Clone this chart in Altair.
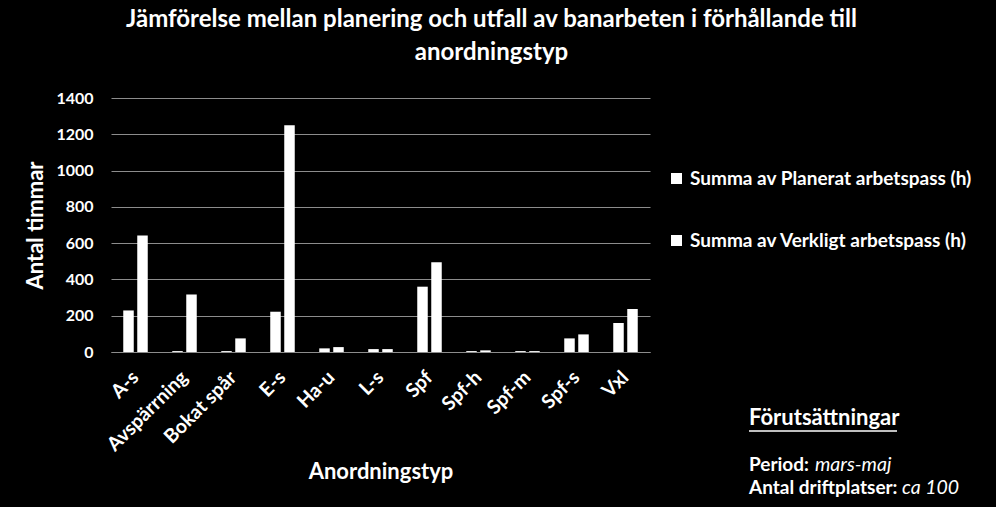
import altair as alt
import pandas as pd

categories = ["A-s", "Avspärrning", "Bokat spår", "E-s", "Ha-u", "L-s",
              "Spf", "Spf-h", "Spf-m", "Spf-s", "Vxl"]
planerat = [229, 5, 5, 222, 20, 16, 360, 5, 5, 75, 160]
verkligt = [642, 317, 75, 1250, 27, 16, 495, 9, 5, 97, 237]
series = ["Summa av Planerat arbetspass (h)", "Summa av Verkligt arbetspass (h)"]
y_ticks = [0, 200, 400, 600, 800, 1000, 1200, 1400]

title_lines = ["Jämförelse mellan planering och utfall av banarbeten i förhållande till",
               "anordningstyp"]
note_heading = "Förutsättningar"
note_labels = ["Period:", "Antal driftplatser:"]
note_values = ["mars-maj", "ca 100"]

rows = []
for c, p, v in zip(categories, planerat, verkligt):
    rows.append({"Anordningstyp": c, "serie": series[0], "timmar": p})
    rows.append({"Anordningstyp": c, "serie": series[1], "timmar": v})
df = pd.DataFrame(rows)

FONT = "Lato"
GRID = "#8c8c8c"

bars = alt.Chart(df).mark_bar(color="white").encode(
    x=alt.X("Anordningstyp:N", sort=categories,
            scale=alt.Scale(paddingInner=0.5, paddingOuter=0.25),
            axis=alt.Axis(title="Anordningstyp", labelAngle=-45, labelAlign="right",
                          labelBaseline="middle", labelPadding=22, ticks=False,
                          domainColor=GRID, labelFont=FONT, labelFontSize=19.5,
                          labelFontWeight="bold", labelColor="white", labelLimit=0,
                          titleFont=FONT, titleFontSize=22, titleFontWeight="bold",
                          titleColor="white", titleY=119, titleBaseline="middle")),
    xOffset=alt.XOffset("serie:N", sort=series, scale=alt.Scale(paddingInner=0.25)),
    y=alt.Y("timmar:Q", scale=alt.Scale(domain=[0, 1400]),
            axis=alt.Axis(values=y_ticks, format="d", title="Antal timmar", ticks=False,
                          domain=False, grid=True, gridColor=GRID, labelPadding=18,
                          labelFont=FONT, labelFontSize=16, labelFontWeight="bold",
                          labelColor="white", titleFont=FONT, titleFontSize=22,
                          titleFontWeight="bold", titleColor="white",
                          titleX=-76, titleBaseline="middle")),
    color=alt.Color("serie:N", sort=series,
                    scale=alt.Scale(domain=series, range=["white", "white"]),
                    legend=alt.Legend(title=None, orient="none", legendX=556, legendY=71,
                                      symbolType="square", symbolSize=121,
                                      symbolStrokeWidth=0, symbolFillColor="white",
                                      labelFont=FONT, labelFontSize=19,
                                      labelFontWeight="bold", labelColor="white",
                                      labelLimit=0, labelOffset=4, rowPadding=42,
                                      padding=0)),
)

def txt(s, x, y, size, weight="bold", style="normal"):
    return alt.Chart(pd.DataFrame({"t": [s]})).mark_text(
        font=FONT, fontSize=size, fontWeight=weight, fontStyle=style, color="white",
        align="left", baseline="middle"
    ).encode(x=alt.value(x), y=alt.value(y), text="t:N")

heading = txt(note_heading, 638, 320, 22)
underline = alt.Chart(pd.DataFrame({"t": [0]})).mark_rule(color="white", strokeWidth=1.5).encode(
    x=alt.value(638), x2=alt.value(786), y=alt.value(333))
l1 = txt(note_labels[0], 638, 367, 19)
v1 = txt(note_values[0], 704, 367, 19.5, weight="normal", style="italic")
l2 = txt(note_labels[1], 638, 390, 19)
v2 = txt(note_values[1], 791, 390, 19.5, weight="normal", style="italic")

chart = alt.layer(bars, heading, underline, l1, v1, l2, v2).properties(
    width=539, height=254,
    title=alt.TitleParams(text=title_lines, anchor="middle", dx=111, offset=25,
                          font=FONT, fontSize=24, fontWeight="bold", color="white",
                          lineHeight=33),
    autosize=alt.AutoSizeParams(type="none"),
    padding={"left": 111, "top": 98, "right": 346, "bottom": 155},
    background="black",
).configure_view(stroke=None)

chart.save("out.html", embed_options={"renderer": "svg", "actions": False})
